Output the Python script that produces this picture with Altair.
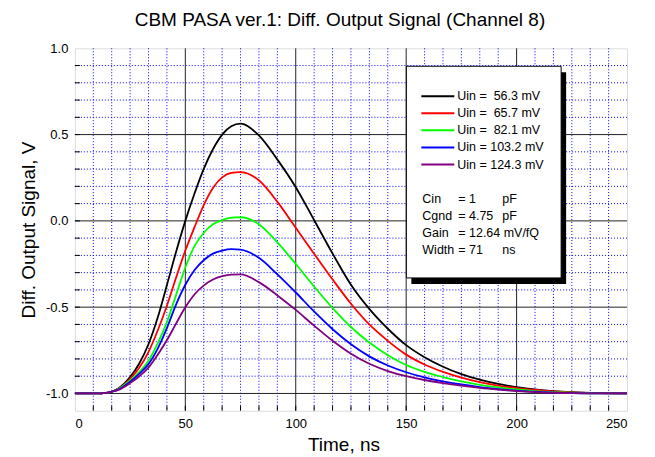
import altair as alt
import pandas as pd

# ---------------- data ----------------
times = [0, 10, 14, 16.7, 20, 25, 29.2, 33.3, 37.5, 41.7, 45.8, 50, 54.2, 58.3, 62.5,
         66.7, 70.8, 75, 83.3, 91.7, 100, 108.3, 116.7, 125, 133.3, 141.7, 150, 158.3,
         166.7, 175, 183.3, 191.7, 200, 208.3, 216.7, 225, 237.5, 250]

u_56 = [-1.0, -1.0, -0.997, -0.99, -0.968, -0.905, -0.825, -0.715, -0.56, -0.37, -0.18, 0.0,
        0.16, 0.30, 0.415, 0.50, 0.548, 0.563, 0.495, 0.355, 0.195, 0.005, -0.19, -0.37,
        -0.51, -0.625, -0.72, -0.79, -0.845, -0.888, -0.92, -0.945, -0.963, -0.977,
        -0.987, -0.993, -0.998, -1.0]
u_66 = [-1.0, -1.0, -0.997, -0.99, -0.97, -0.915, -0.85, -0.76, -0.635, -0.49, -0.33, -0.172,
        -0.035, 0.09, 0.19, 0.252, 0.278, 0.283, 0.235, 0.11, -0.04, -0.19, -0.34,
        -0.48, -0.60, -0.695, -0.775, -0.832, -0.875, -0.908, -0.934, -0.954, -0.969,
        -0.98, -0.988, -0.994, -0.998, -1.0]
u_82 = [-1.0, -1.0, -0.997, -0.99, -0.972, -0.925, -0.875, -0.81, -0.71, -0.585, -0.43, -0.27,
        -0.145, -0.07, -0.02, 0.005, 0.019, 0.021, -0.02, -0.125, -0.25, -0.38, -0.505,
        -0.615, -0.705, -0.778, -0.835, -0.875, -0.905, -0.93, -0.95, -0.965, -0.977,
        -0.986, -0.992, -0.996, -0.999, -1.0]
u_103 = [-1.0, -1.0, -0.997, -0.99, -0.975, -0.932, -0.885, -0.83, -0.74, -0.62, -0.485, -0.37,
         -0.285, -0.228, -0.19, -0.172, -0.164, -0.167, -0.214, -0.31, -0.415, -0.525,
         -0.628, -0.715, -0.785, -0.838, -0.877, -0.907, -0.93, -0.948, -0.963, -0.975,
         -0.984, -0.99, -0.995, -0.998, -1.0, -1.0]
u_124 = [-1.0, -1.0, -0.997, -0.99, -0.978, -0.94, -0.90, -0.85, -0.775, -0.69, -0.595, -0.50,
         -0.425, -0.375, -0.34, -0.32, -0.311, -0.31, -0.355, -0.432, -0.516, -0.607,
         -0.695, -0.77, -0.828, -0.87, -0.90, -0.922, -0.94, -0.955, -0.968, -0.978,
         -0.986, -0.992, -0.996, -0.998, -1.0, -1.0]

series_names = ["Uin = 56.3 mV", "Uin = 65.7 mV", "Uin = 82.1 mV", "Uin = 103.2 mV", "Uin = 124.3 mV"]
legend_labels = ["Uin =\u00a0\u00a056.3 mV", "Uin =\u00a0\u00a065.7 mV",
                 "Uin =\u00a0\u00a082.1 mV", "Uin = 103.2 mV", "Uin = 124.3 mV"]
series_colors = ["#000000", "#ff0000", "#00ff00", "#0000ff", "#800080"]
series_values = [u_56, u_66, u_82, u_103, u_124]

param_names = ["Cin", "Cgnd", "Gain", "Width"]
param_values = ["= 1", "= 4.75", "= 12.64 mV/fQ", "= 71"]
param_units = ["pF", "pF", "", "ns"]

x_ticks = [0, 50, 100, 150, 200, 250]
y_ticks = [-1.0, -0.5, 0.0, 0.5, 1.0]

TITLE = "CBM PASA ver.1: Diff. Output Signal (Channel 8)"
X_TITLE = "Time, ns"
Y_TITLE = "Diff. Output Signal, V"

# ---------------- layout ----------------
W, H = 553, 363
FONT = "Liberation Sans"

xs = alt.Scale(domain=[0, 250], nice=False, zero=False)
ys = alt.Scale(domain=[-1.1, 1.0], nice=False, zero=False)

xaxis = alt.Axis(values=x_ticks, title=X_TITLE, grid=False, domain=False, ticks=False,
                 labelFontSize=13, labelFont=FONT, labelColor="#000", labelPadding=7,
                 titleFontSize=19, titleFont=FONT, titleFontWeight="normal", titleColor="#000",
                 titlePadding=5, titleX=269, titleAlign="center", format="d")
yaxis = alt.Axis(values=y_ticks, title=Y_TITLE, grid=False, domain=False, ticks=False,
                 labelFontSize=13, labelFont=FONT, labelColor="#000", labelPadding=7,
                 labelExpr="datum.value < 0 ? '-' + format(-datum.value, '.1f') : format(datum.value, '.1f')",
                 titleFontSize=19, titleFont=FONT, titleFontWeight="normal", titleColor="#000",
                 titlePadding=7)

# grid positions
minor_x = [k * 50 / 6 for k in range(1, 30) if k % 6 != 0]
major_x = [50, 100, 150, 200]
minor_y = [round(-1.0 + 0.1 * k, 2) for k in range(1, 20) if k % 5 != 0]
major_y = [-1.0, -0.5, 0.0, 0.5]
all_x_ticks = [k * 50 / 6 for k in range(1, 30)]
all_y_ticks = [round(-1.0 + 0.1 * k, 2) for k in range(0, 20)]

layers = []
layers.append(alt.Chart(pd.DataFrame({"t": minor_x})).mark_rule(
    color="#0000ff", strokeDash=[1, 2], strokeWidth=1).encode(
    x=alt.X("t:Q", scale=xs, axis=xaxis)))
layers.append(alt.Chart(pd.DataFrame({"v": minor_y})).mark_rule(
    color="#0000ff", strokeDash=[1, 2], strokeWidth=1).encode(
    y=alt.Y("v:Q", scale=ys, axis=yaxis)))
layers.append(alt.Chart(pd.DataFrame({"t": major_x})).mark_rule(
    color="#222222", strokeWidth=1).encode(x=alt.X("t:Q", scale=xs, axis=xaxis)))
layers.append(alt.Chart(pd.DataFrame({"v": major_y})).mark_rule(
    color="#222222", strokeWidth=1).encode(y=alt.Y("v:Q", scale=ys, axis=yaxis)))

# inward ticks (bottom and left only)
layers.append(alt.Chart(pd.DataFrame({"t": all_x_ticks})).mark_rule(
    color="#000", strokeWidth=1).encode(
    x=alt.X("t:Q", scale=xs, axis=xaxis), y=alt.value(H), y2=alt.value(H - 5)))
layers.append(alt.Chart(pd.DataFrame({"v": all_y_ticks})).mark_rule(
    color="#000", strokeWidth=1).encode(
    y=alt.Y("v:Q", scale=ys, axis=yaxis), x=alt.value(0), x2=alt.value(5)))

# curves
for name, col, vals in zip(series_names, series_colors, series_values):
    df = pd.DataFrame({"t": times, "v": vals})
    layers.append(alt.Chart(df).mark_line(color=col, strokeWidth=1.8, interpolate="monotone").encode(
        x=alt.X("t:Q", scale=xs, axis=xaxis), y=alt.Y("v:Q", scale=ys, axis=yaxis)))

# legend box with shadow
BX0, BX1, BY0, BY1 = 332, 487, 18, 230
layers.append(alt.Chart(pd.DataFrame({"a": [0]})).mark_rect(color="#000").encode(
    x=alt.value(BX0 + 5), x2=alt.value(BX1 + 5), y=alt.value(BY0 + 6), y2=alt.value(BY1 + 6)))
layers.append(alt.Chart(pd.DataFrame({"a": [0]})).mark_rect(fill="#fff", stroke="#000", strokeWidth=1).encode(
    x=alt.value(BX0), x2=alt.value(BX1), y=alt.value(BY0), y2=alt.value(BY1)))

leg = pd.DataFrame({"name": series_names, "label": legend_labels,
                    "py": [48 + 17.1 * i for i in range(5)]})
layers.append(alt.Chart(leg).mark_rule(strokeWidth=2).encode(
    x=alt.value(347), x2=alt.value(380), y=alt.Y("py:Q", scale=None),
    color=alt.Color("name:N", scale=alt.Scale(domain=series_names, range=series_colors), legend=None)))
layers.append(alt.Chart(leg).mark_text(align="left", baseline="middle", fontSize=12.5, font=FONT,
                                      color="#000").encode(
    x=alt.value(383), y=alt.Y("py:Q", scale=None), text="label:N"))

par = pd.DataFrame({"n": param_names, "v": param_values, "u": param_units,
                    "py": [151 + 16.9 * i for i in range(4)]})
layers.append(alt.Chart(par).mark_text(align="left", baseline="middle", fontSize=12.5, font=FONT,
                                      color="#000").encode(
    x=alt.value(348), y=alt.Y("py:Q", scale=None), text="n:N"))
layers.append(alt.Chart(par).mark_text(align="left", baseline="middle", fontSize=12.5, font=FONT,
                                      color="#000").encode(
    x=alt.value(384), y=alt.Y("py:Q", scale=None), text="v:N"))
layers.append(alt.Chart(par).mark_text(align="left", baseline="middle", fontSize=12.5, font=FONT,
                                      color="#000").encode(
    x=alt.value(428), y=alt.Y("py:Q", scale=None), text="u:N"))

chart = alt.layer(*layers).properties(
    width=W, height=H,
    title=alt.TitleParams(TITLE, fontSize=19, font=FONT, fontWeight="normal", color="#000",
                          anchor="middle", offset=12, dx=-11),
    autosize=alt.AutoSizeParams(type="none"),
    padding={"left": 67, "top": 40, "right": 20, "bottom": 46},
).configure_view(stroke="#000", strokeWidth=1).configure(background="#fff")

chart.save("out.html", embed_options={"renderer": "svg", "actions": False})
